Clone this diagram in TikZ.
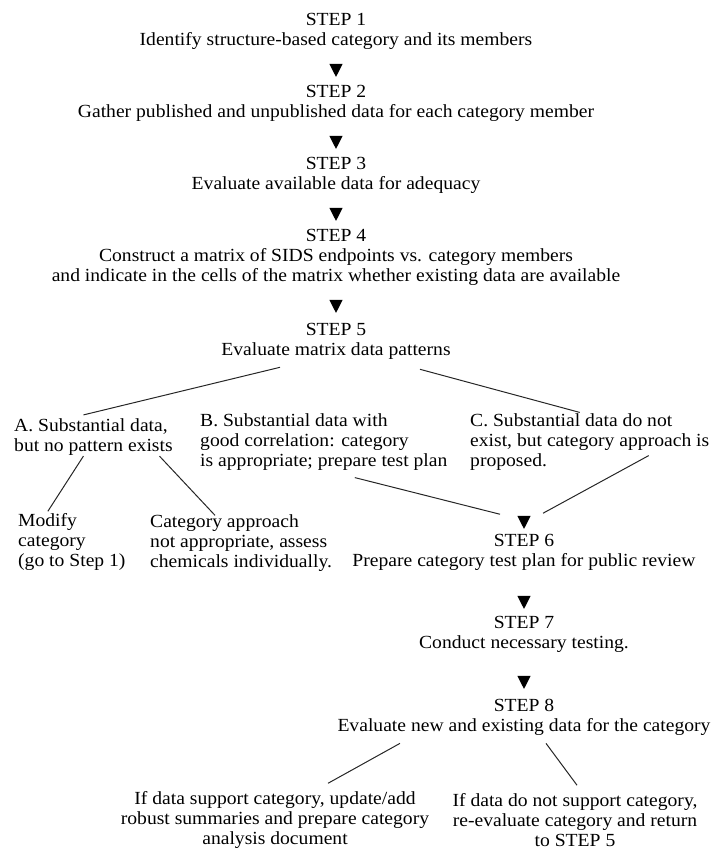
\documentclass[tikz,border=0pt]{standalone}
\usepackage{fontspec}
\setmainfont{Liberation Serif}[FakeStretch=1.06]
\usetikzlibrary{calc,shapes.geometric}

\newcommand\stepfont{\fontsize{18.5}{20}\selectfont}

\tikzset{
  txt/.style={align=center, inner sep=0pt, font=\stepfont},
  ltxt/.style={txt, align=left, anchor=west},
  tri/.style={isosceles triangle, isosceles triangle apex angle=54,
    shape border rotate=-90, fill=black, inner sep=0pt, minimum height=13pt},
  link/.style={line width=1pt, black!85}
}

\begin{document}
\begin{tikzpicture}[x=1pt,y=-1pt]
				\useasboundingbox (0,0) rectangle (715,852);
				
				% main column
				\node[txt] (s1) at (336,31) {STEP 1\\Identify structure-based category and its members};
				\node[tri] (t1) at (336,68) {};
				\node[txt] (s2) at (336,103) {STEP 2\\Gather published and unpublished data for each category member};
				\node[tri] (t2) at (336,140) {};
				\node[txt] (s3) at (336,175) {STEP 3\\Evaluate available data for adequacy};
				\node[tri] (t3) at (336,212) {};
				\node[txt] (s4) at (336,257) {STEP 4\\Construct a matrix of SIDS endpoints vs. category members\\and indicate in the cells of the matrix whether existing data are available};
				\node[tri] (t4) at (336,304) {};
				\node[txt] (s5) at (336,341) {STEP 5\\Evaluate matrix data patterns};
				
				% outcomes of step 5
				\node[ltxt] (a) at (14,437.5) {A. Substantial data,\\but no pattern exists};
				\node[ltxt] (b) at (200,442) {B. Substantial data with\\good correlation: category\\is appropriate; prepare test plan};
				\node[ltxt] (c) at (470,442) {C. Substantial data do not\\exist, but category approach is\\proposed.};
				\node[ltxt] (mod) at (18,542) {Modify\\category\\(go to Step 1)};
				\node[ltxt] (cat) at (150,543) {Category approach\\not appropriate, assess\\chemicals individually.};
				
				\draw[link] ($(s5.south)+(-56,8)$) -- ($(a.north)+(-10,-4)$);
				\draw[link] ($(s5.south)+(84,10)$) -- ($(c.north)+(-10,-1)$);
				\draw[link] ($(a.south)+(-10,0)$) -- ($(mod.north)+(-24,-2)$);
				\draw[link] ($(a.south)+(66,0)$) -- ($(cat.north)+(-26,1)$);
				
				% test plan column
				\node[tri] (t5) at (524,520) {};
				\draw[link] ($(b.south)+(31,7)$) -- ($(t5.north)+(-24,-1.5)$);
				\draw[link] ($(c.south)+(59,-15)$) -- ($(t5.north)+(19,-2.5)$);
				
				\node[txt] (s6) at (524,552) {STEP 6\\Prepare category test plan for public review};
				\node[tri] (t6) at (524,600) {};
				\node[txt] (s7) at (524,634) {STEP 7\\Conduct necessary testing.};
				\node[tri] (t7) at (524,680) {};
				\node[txt] (s8) at (524,717) {STEP 8\\Evaluate new and existing data for the category};
				
				\node[txt] (lft) at (275,820) {If data support category, update/add\\robust summaries and prepare category\\analysis document};
				\node[txt] (rgt) at (575,820) {If data do not support category,\\re-evaluate category and return\\to STEP 5};
				\draw[link] ($(s8.south)+(-124,8)$) -- ($(lft.north)+(53,-8)$);
				\draw[link] ($(s8.south)+(22,8)$) -- ($(rgt.north)+(2,-8)$);
			\end{tikzpicture}
\end{document}
